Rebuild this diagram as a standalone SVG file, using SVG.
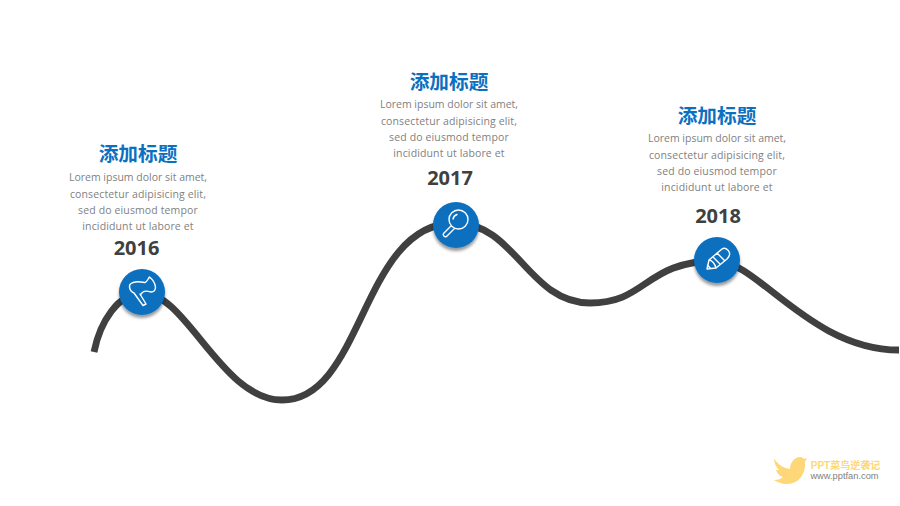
<svg xmlns="http://www.w3.org/2000/svg" width="900" height="506" viewBox="0 0 900 506">
<style>
text{text-anchor:middle}
.t{font:bold 19.700px "Noto Sans CJK SC","Noto Sans",sans-serif;fill:#0b70c0}
.b{font:10.500px "Open Sans","Noto Sans",sans-serif;fill:#7f7f7f}
.w{letter-spacing:.13px}
.y{font:bold 20px "Open Sans","Noto Sans",sans-serif;fill:#404040}
.c{fill:#0b6fbf;filter:url(#s)}
.i{fill:none;stroke:#fff;stroke-width:1.400;stroke-linejoin:round;stroke-linecap:round}
</style>
<defs><filter id="s" x="-30%" y="-30%" width="160%" height="170%"><feDropShadow dx="0" dy="3" stdDeviation="1.500" flood-color="#000" flood-opacity=".4"/></filter></defs>
<rect width="900" height="506" fill="#fff"/>
<g id="connectors"><path d="M94 352C100 322 118 293 143 293C186 293 222 400 282 400C364 400 361 223 455 223C515.500 223 528.500 303 590 303C647.700 303 644.300 261 717 261C757 261 811 350 899 350" fill="none" stroke="#404040" stroke-width="6.800"/></g>
<g id="node-2016">
<text class="t" x="138" y="161">添加标题</text>
<text class="b" x="138" y="181">Lorem ipsum dolor sit amet,</text>
<text class="b w" x="138" y="198">consectetur adipisicing elit,</text>
<text class="b w" x="138" y="214">sed do eiusmod tempor</text>
<text class="b w" x="138" y="230">incididunt ut labore et</text>
<text class="y" x="136.500" y="255">2016</text>
<circle class="c" cx="142" cy="292" r="23"/>
<path class="i" d="M134 293C129 291 128.500 285 131 283.500C135 280.500 141 282 145 282.500C147 282 148 279 149.500 277C152 279 155 283 155.500 287C155.500 290 154 292 151 292C148 291 145 290.500 143 292C141.500 293 141 294 140.500 295M134 293L143 305.500L146 304L140 294"/>
</g>
<g id="node-2017">
<text class="t" x="449" y="89">添加标题</text>
<text class="b" x="449" y="108">Lorem ipsum dolor sit amet,</text>
<text class="b w" x="449" y="125">consectetur adipisicing elit,</text>
<text class="b w" x="449" y="141">sed do eiusmod tempor</text>
<text class="b w" x="449" y="157">incididunt ut labore et</text>
<text class="y" x="450" y="185">2017</text>
<circle class="c" cx="456" cy="225" r="23"/>
<circle class="i" cx="458.500" cy="219.500" r="9.500"/>
<path class="i" d="M451 226L443.500 233.500C442.500 235 444.500 237.500 446.500 236.500L454 229M453 219A6 6 0 0 1 457 214.500"/>
</g>
<g id="node-2018">
<text class="t" x="717" y="123">添加标题</text>
<text class="b" x="717" y="142">Lorem ipsum dolor sit amet,</text>
<text class="b w" x="717" y="159">consectetur adipisicing elit,</text>
<text class="b w" x="717" y="175">sed do eiusmod tempor</text>
<text class="b w" x="717" y="191">incididunt ut labore et</text>
<text class="y" x="718" y="223">2018</text>
<circle class="c" cx="717" cy="260" r="23"/>
<path class="i" d="M707 269L709 260L722 249C725 247 729 250 729.500 253C730 255 729 257 727 259L716 268ZM709 260C712 260 715 264 716 268M713 257L720 264M717 253L724 260M707.500 265L710.500 268.500"/>
</g>
<g id="logo">
<path d="M774 458C777 464 783 468 790 469C790 462 795 457 800 457C802 457 803 458 804 459L807 458L805 462C806 472 800 484 787 484C782 484 777 482 774 480C778 480 781 479 783 477C779 476 777 473 776 470L779 470C776 467 774 463 774 458Z" fill="#fdd778"/>
<text x="845.500" y="469" style="font:bold 10px 'Liberation Sans','Noto Sans CJK SC',sans-serif;fill:#fdd778">PPT菜鸟逆袭记</text>
<text x="844.500" y="479" style="font:9.300px 'Liberation Sans',sans-serif;fill:#7f7f7f">www.pptfan.com</text>
</g>
</svg>
